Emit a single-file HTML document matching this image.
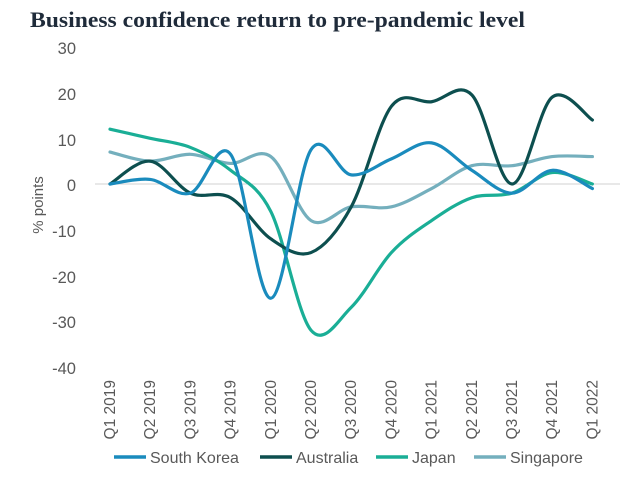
<!DOCTYPE html>
<html><head><meta charset="utf-8"><style>
body{margin:0;background:#fff;width:633px;height:493px;overflow:hidden}
svg{display:block}
</style></head><body>
<svg id="s" width="633" height="493" xmlns="http://www.w3.org/2000/svg" font-family="Liberation Sans, sans-serif">
<text x="30" y="27" font-family="Liberation Serif, serif" font-weight="bold" font-size="22" fill="#1f2b3a" textLength="495" lengthAdjust="spacingAndGlyphs">Business confidence return to pre-pandemic level</text>
<line x1="95" y1="184" x2="620" y2="184" stroke="#d0d0d0" stroke-width="1"/>
<g font-size="16.5" fill="#595959" text-anchor="end">
<text x="76" y="54">30</text><text x="76" y="100">20</text><text x="76" y="146">10</text><text x="76" y="191">0</text>
<text x="76" y="237">-10</text><text x="76" y="283">-20</text><text x="76" y="328">-30</text><text x="76" y="374">-40</text>
</g>
<text transform="translate(43,205) rotate(-90)" font-size="15" fill="#595959" text-anchor="middle">% points</text>
<g id="xl" font-size="15.5" fill="#595959"></g>
<g id="lines" fill="none" stroke-width="3.2" stroke-linecap="round"></g>
<g font-size="16" fill="#595959">
<line x1="114" y1="457" x2="146" y2="457" stroke="#1a8bbd" stroke-width="3.5"/><text x="150" y="463">South Korea</text>
<line x1="260" y1="457" x2="292" y2="457" stroke="#0d4f4f" stroke-width="3.5"/><text x="296" y="463">Australia</text>
<line x1="376" y1="457" x2="408" y2="457" stroke="#1aae96" stroke-width="3.5"/><text x="412" y="463">Japan</text>
<line x1="474" y1="457" x2="506" y2="457" stroke="#74afbd" stroke-width="3.5"/><text x="510" y="463">Singapore</text>
</g>
</svg>
<script>
var NS="http://www.w3.org/2000/svg";
var x0=110,st=40.2;
function X(i){return x0+i*st}
function Y(v){return 184-v*4.57}
var labels=["Q1 2019","Q2 2019","Q3 2019","Q4 2019","Q1 2020","Q2 2020","Q3 2020","Q4 2020","Q1 2021","Q2 2021","Q3 2021","Q4 2021","Q1 2022"];
var xl=document.getElementById("xl");
labels.forEach(function(l,i){var t=document.createElementNS(NS,"text");
t.setAttribute("transform","translate("+(X(i)+5)+",380) rotate(-90)");t.setAttribute("text-anchor","end");t.textContent=l;xl.appendChild(t);});
var series=[
["#74afbd",[7,5,6.5,4.5,6,-8,-5,-5,-1,4,4,6,6]],
["#1aae96",[12,10,8,3,-6,-32,-27,-15,-8,-3,-2,2.5,0]],
["#0d4f4f",[0,5,-2,-3,-12,-15,-5,17,18,19.5,0,19,14]],
["#1a8bbd",[0,1,-2,6.5,-25,7.5,2,5.5,9,3,-2,3,-1]]
];
var g=document.getElementById("lines");
series.forEach(function(s){
var p=s[1].map(function(v,i){return [X(i),Y(v)]});
var d="M"+p[0][0]+","+p[0][1];
for(var i=0;i<p.length-1;i++){
var a=p[i-1]||p[i],b=p[i],c=p[i+1],e=p[i+2]||c;
var c1=[b[0]+(c[0]-a[0])/6,b[1]+(c[1]-a[1])/6],c2=[c[0]-(e[0]-b[0])/6,c[1]-(e[1]-b[1])/6];
d+=" C"+c1[0]+","+c1[1]+" "+c2[0]+","+c2[1]+" "+c[0]+","+c[1];}
var el=document.createElementNS(NS,"path");el.setAttribute("d",d);el.setAttribute("stroke",s[0]);g.appendChild(el);
});
</script>
</body></html>
